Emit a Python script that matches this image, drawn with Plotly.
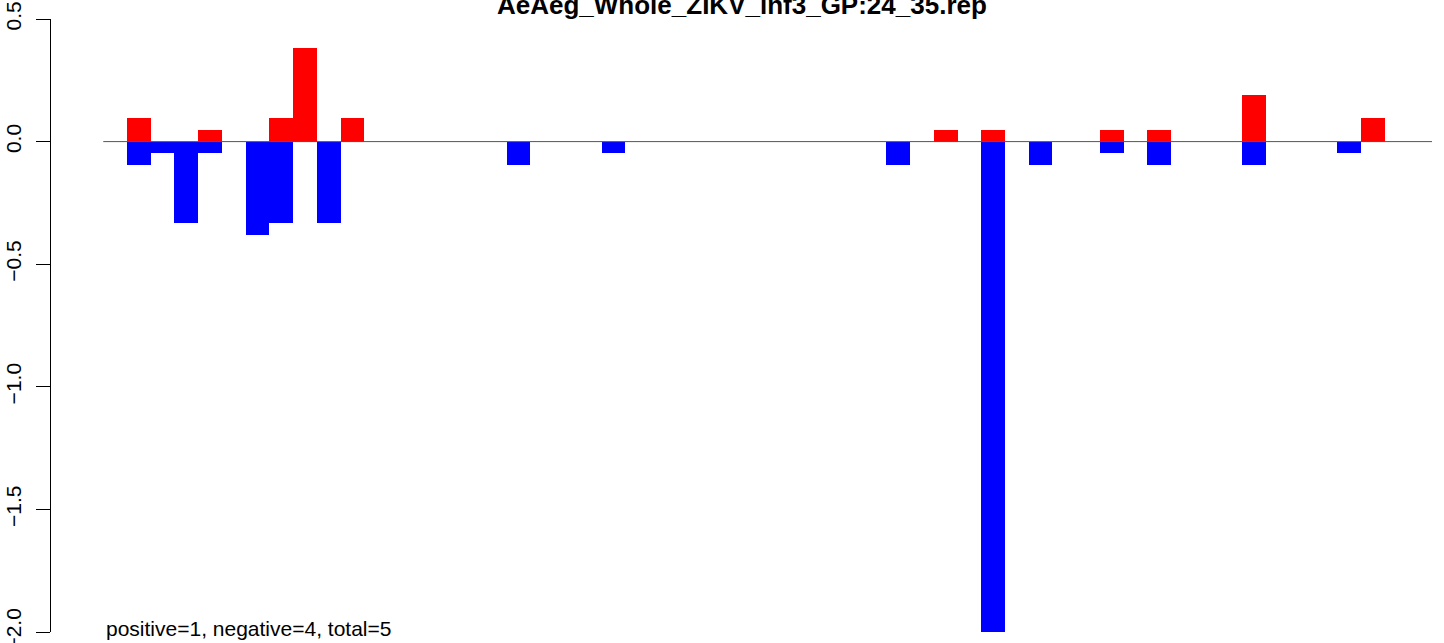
import plotly.graph_objects as go

# bar slots (0-based position along the x axis) and their values
pos_slots = [0, 3, 6, 7, 9, 34, 36, 41, 43, 47, 52]
pos_vals = [0.095, 0.048, 0.095, 0.381, 0.095, 0.048, 0.048, 0.048, 0.048, 0.190, 0.095]

neg_slots = [0, 1, 2, 3, 5, 6, 8, 16, 20, 32, 36, 38, 41, 43, 47, 51]
neg_vals = [-0.095, -0.048, -0.333, -0.048, -0.381, -0.333, -0.333, -0.095, -0.048,
            -0.095, -2.0, -0.095, -0.048, -0.095, -0.095, -0.048]

title = "AeAeg_Whole_ZIKV_inf3_GP:24_35.rep"
note = "positive=1, negative=4, total=5"
y_ticks = [0.5, 0.0, -0.5, -1.0, -1.5, -2.0]
y_labels = ["0.5", "0.0", "\u22120.5", "\u22121.0", "\u22121.5", "\u22122.0"]

W, H = 1444, 643
ml, mr, mt, mb = 51, 12, 18.5, 11
font = "Liberation Sans, Arial, Helvetica, sans-serif"
plot_h = H - mt - mb
plot_w = W - ml - mr

fig = go.Figure()
fig.add_trace(go.Bar(x=[s + 0.5 for s in pos_slots], y=pos_vals, width=1,
                     marker=dict(color="#FF0000", line=dict(width=0)), showlegend=False))
fig.add_trace(go.Bar(x=[s + 0.5 for s in neg_slots], y=neg_vals, width=1,
                     marker=dict(color="#0000FF", line=dict(width=0)), showlegend=False))

slot_px = 23.73
x0 = (ml - 127) / slot_px
x1 = (W - mr - 127) / slot_px

fig.add_shape(type="line", xref="x", yref="y", x0=-1, x1=55, y0=0, y1=0,
              line=dict(color="#555555", width=1), layer="above")

fig.add_annotation(text=note, xref="paper", yref="paper",
                   x=(104 - ml) / plot_w, y=-(642 - (H - mb)) / plot_h,
                   xanchor="left", yanchor="bottom", showarrow=False,
                   font=dict(family=font, size=21, color="black"))
# title sits partly above the top edge, as in the original image
fig.add_annotation(text="<b>" + title + "</b>", xref="paper", yref="paper",
                   x=0.5, y=1 - (21.5 - mt) / plot_h, xanchor="center", yanchor="bottom",
                   showarrow=False, font=dict(family=font, size=26, color="black"))

fig.update_layout(
    width=W, height=H,
    margin=dict(l=ml, r=mr, t=mt, b=mb, autoexpand=False),
    plot_bgcolor="white", paper_bgcolor="white",
    barmode="overlay", bargap=0,
    font=dict(family=font, size=21, color="black"),
    xaxis=dict(range=[x0, x1], visible=False, fixedrange=True),
    yaxis=dict(range=[-2, 0.5], tickvals=y_ticks, ticktext=y_labels,
               tickangle=-90, ticks="outside", ticklen=14, tickcolor="black",
               ticklabelstandoff=7, ticklabeloverflow="allow",
               showline=True, linecolor="black", linewidth=1, showgrid=False,
               zeroline=False, automargin=False, tickfont=dict(family=font, size=21)),
)

fig.write_html("out.html", config={"displayModeBar": False},
               post_script="document.body.style.margin='0';")
